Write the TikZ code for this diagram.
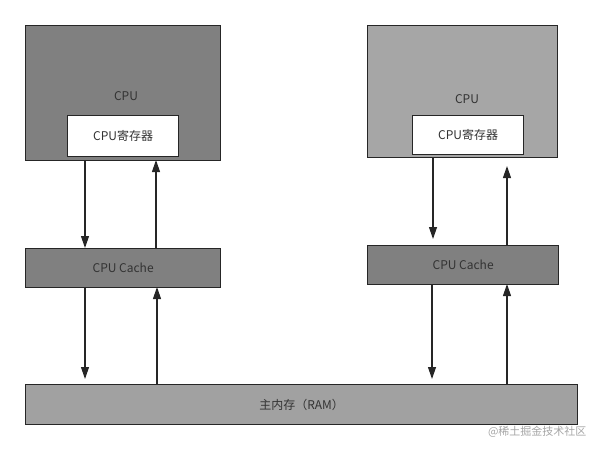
\documentclass[tikz,border=0pt]{standalone}
\usepackage{fontspec}
\setmainfont{Noto Sans CJK SC}
\usetikzlibrary{arrows.meta}
\begin{document}
\begin{tikzpicture}[x=1pt,y=-1pt,
  box/.style={draw=black!85,line width=1.3pt,anchor=north west,inner sep=0pt,font=\fontsize{12}{14}\selectfont,text=black!80},
  conn/.style={draw=black!85,line width=1.2pt,-{Triangle[length=12pt,width=8pt]}}]
\useasboundingbox (0,0) rectangle (603,451);
\node[box,fill=black!50,minimum width=195pt,minimum height=135pt] (cpu1) at (25,25) {};
\node[font=\fontsize{12}{14}\selectfont,text=black!80] at (126,96) {CPU};
\node[box,fill=white,minimum width=111pt,minimum height=41pt] (reg1) at (67,115) {CPU寄存器};
\node[box,fill=black!35,minimum width=190pt,minimum height=132pt] (cpu2) at (367,25) {};
\node[font=\fontsize{12}{14}\selectfont,text=black!80] at (467,99) {CPU};
\node[box,fill=white,minimum width=111pt,minimum height=39pt] (reg2) at (412,115) {CPU寄存器};
\node[box,fill=black!50,minimum width=195pt,minimum height=39pt] (cache1) at (25,248) {CPU Cache};
\node[box,fill=black!50,minimum width=191pt,minimum height=39pt] (cache2) at (367,245) {CPU Cache};
\node[box,fill=black!37,minimum width=552pt,minimum height=40pt] (ram) at (25,384) {主内存（RAM）};
\coordinate (a1) at (85,248);
\coordinate (a2) at (85,379);
\coordinate (a3) at (433,239);
\coordinate (a4) at (432,379);
\coordinate (b1) at (156,160);
\coordinate (b2) at (157,287);
\coordinate (b3) at (507,166);
\coordinate (b4) at (507,284);
\draw[conn] (85,160) -- (a1);
\draw[conn] (156,248) -- (b1);
\draw[conn] (85,287) -- (a2);
\draw[conn] (157,384) -- (b2);
\draw[conn] (433,157) -- (a3);
\draw[conn] (507,245) -- (b3);
\draw[conn] (432,284) -- (a4);
\draw[conn] (507,384) -- (b4);
\node[font=\fontsize{11}{13}\selectfont,text=black!35,anchor=east] at (590,432) {@稀土掘金技术社区};
\end{tikzpicture}
\end{document}
